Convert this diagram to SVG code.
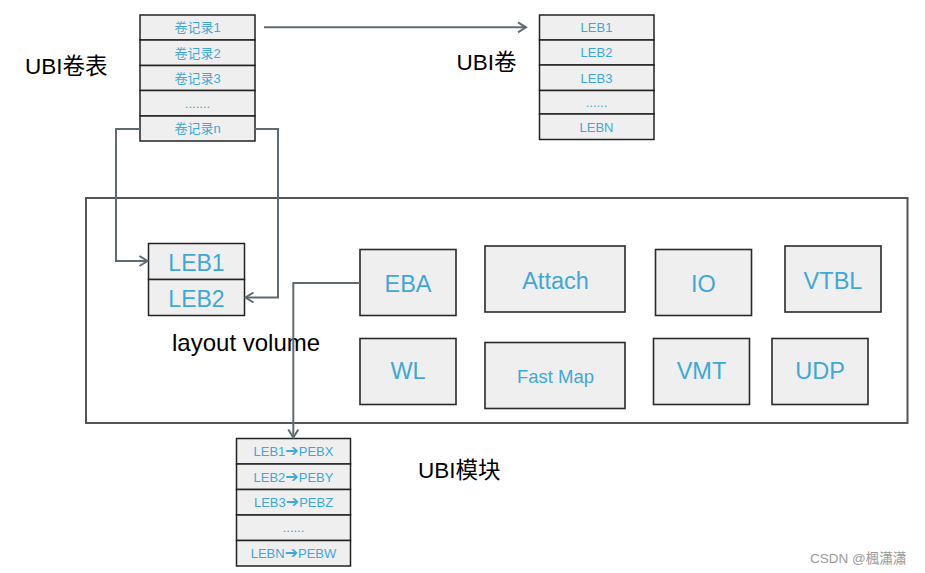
<svg xmlns="http://www.w3.org/2000/svg" width="925" height="573" viewBox="0 0 925 573">
<defs>
<style>
.cell{fill:#efefef;stroke:#222;stroke-width:1.5}
.mod{fill:#efefef;stroke:#2a2a2a;stroke-width:1.6}
.t{font-family:"Liberation Sans","Noto Sans CJK SC",Arial,sans-serif;fill:#3fa8d6;text-anchor:middle}
.s{font-size:13px}
.b{font-size:23px}
.ar{font-family:"DejaVu Sans",sans-serif;font-size:16px}
.lbl{font-family:"Liberation Sans","Noto Sans CJK SC",Arial,sans-serif;fill:#000;font-size:22.5px}
.con{fill:none;stroke:#5f6b73;stroke-width:2}
</style>
<marker id="ah" markerWidth="12" markerHeight="12" refX="10" refY="6" orient="auto" markerUnits="userSpaceOnUse">
<path d="M2,1 L10,6 L2,11" fill="none" stroke="#5f6b73" stroke-width="2"/>
</marker>
</defs>
<rect width="925" height="573" fill="#fff"/>

<g id="module-frame">
<rect x="86" y="198" width="821.5" height="225" fill="none" stroke="#555" stroke-width="2"/>
</g>

<text class="lbl" x="25" y="74.3">UBI卷表</text>
<text class="lbl" x="456.5" y="70">UBI卷</text>
<text class="lbl" x="418" y="478.3">UBI模块</text>
<text class="lbl" x="172" y="351" style="font-size:24px">layout volume</text>

<g id="volume-table">
<rect class="cell" x="140" y="15" width="115" height="25"/>
<rect class="cell" x="140" y="40" width="115" height="25.5"/>
<rect class="cell" x="140" y="65.5" width="115" height="25"/>
<rect class="cell" x="140" y="90.5" width="115" height="25.5"/>
<rect class="cell" x="140" y="116" width="115" height="25"/>
<text class="t s" x="197.5" y="32">卷记录1</text>
<text class="t s" x="197.5" y="57.5">卷记录2</text>
<text class="t s" x="197.5" y="83">卷记录3</text>
<text class="t s" x="197.5" y="108">.......</text>
<text class="t s" x="197.5" y="133">卷记录n</text>
</g>

<g id="ubi-volume">
<rect class="cell" x="539.5" y="15" width="114.5" height="25"/>
<rect class="cell" x="539.5" y="40" width="114.5" height="25"/>
<rect class="cell" x="539.5" y="65" width="114.5" height="25.5"/>
<rect class="cell" x="539.5" y="90.5" width="114.5" height="23.5"/>
<rect class="cell" x="539.5" y="114" width="114.5" height="25.5"/>
<text class="t s" x="596.5" y="31.5">LEB1</text>
<text class="t s" x="596.5" y="57">LEB2</text>
<text class="t s" x="596.5" y="82.5">LEB3</text>
<text class="t s" x="596.5" y="107">......</text>
<text class="t s" x="596.5" y="131.5">LEBN</text>
</g>

<g id="layout-volume">
<rect class="cell" x="148.5" y="243.5" width="96" height="36"/>
<rect class="cell" x="148.5" y="279.5" width="96" height="36"/>
<text class="t b" x="196.5" y="270.5">LEB1</text>
<text class="t b" x="196.5" y="306.5">LEB2</text>
</g>

<g id="eba"><rect class="mod" x="360" y="249.5" width="96" height="66"/><text class="t" x="408" y="291.5" font-size="23.5">EBA</text></g>
<g id="attach"><rect class="mod" x="485" y="246" width="140" height="66"/><text class="t" x="555.5" y="289.3" font-size="23.5">Attach</text></g>
<g id="io"><rect class="mod" x="655.5" y="249.5" width="96" height="66"/><text class="t" x="703.5" y="291.5" font-size="23.5">IO</text></g>
<g id="vtbl"><rect class="mod" x="785" y="246" width="96" height="66"/><text class="t" x="833" y="289.3" font-size="23.5">VTBL</text></g>
<g id="wl"><rect class="mod" x="360" y="338.5" width="96" height="66"/><text class="t" x="408" y="379.3" font-size="23.5">WL</text></g>
<g id="fastmap"><rect class="mod" x="485" y="342.5" width="140" height="66"/><text class="t" x="555.5" y="382.7" font-size="18.5">Fast Map</text></g>
<g id="vmt"><rect class="mod" x="653.5" y="338.5" width="96" height="66"/><text class="t" x="701.5" y="379.3" font-size="23.5">VMT</text></g>
<g id="udp"><rect class="mod" x="772" y="338.5" width="96" height="66"/><text class="t" x="820" y="379.3" font-size="23.5">UDP</text></g>

<g id="map-table">
<rect class="cell" x="236.5" y="438.5" width="114" height="25.5"/>
<rect class="cell" x="236.5" y="464" width="114" height="25.5"/>
<rect class="cell" x="236.5" y="489.5" width="114" height="25.5"/>
<rect class="cell" x="236.5" y="515" width="114" height="25.5"/>
<rect class="cell" x="236.5" y="540.5" width="114" height="25.5"/>
<text class="t s" x="293.5" y="456">LEB1<tspan class="ar">➔</tspan>PEBX</text>
<text class="t s" x="293.5" y="481.5">LEB2<tspan class="ar">➔</tspan>PEBY</text>
<text class="t s" x="293.5" y="507">LEB3<tspan class="ar">➔</tspan>PEBZ</text>
<text class="t s" x="293.5" y="532">......</text>
<text class="t s" x="293.5" y="558">LEBN<tspan class="ar">➔</tspan>PEBW</text>
</g>

<g id="connectors">
<path class="con" d="M264,27.3 H526" marker-end="url(#ah)"/>
<path class="con" d="M140,129 H116 V261 H147.5" marker-end="url(#ah)"/>
<path class="con" d="M255,129 H278 V297.5 H245.5" marker-end="url(#ah)"/>
<path class="con" d="M360,283 H293.3 V437.5" marker-end="url(#ah)"/>
</g>

<text x="810" y="563" font-family="'Liberation Sans','Noto Sans CJK SC',sans-serif" font-size="13.5" fill="#9a9a9a">CSDN @楓瀟瀟</text>
</svg>
